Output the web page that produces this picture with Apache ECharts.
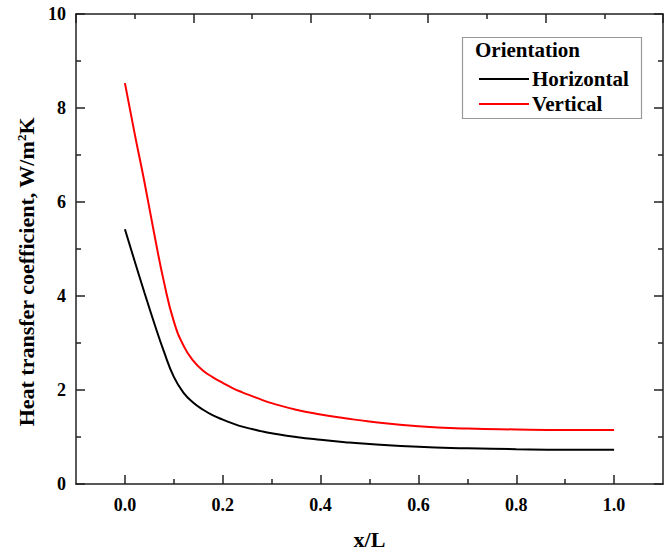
<!DOCTYPE html>
<html>
<head>
<meta charset="utf-8">
<script src="https://cdn.jsdelivr.net/npm/echarts@6/dist/echarts.min.js"></script>
<style>
  html, body { margin: 0; padding: 0; background: #fff; }
  #chart { width: 672px; height: 555px; }
</style>
</head>
<body>
<div id="chart"></div>
<script>
// ---- data ----
const xValues = [0, 0.02, 0.04, 0.06, 0.08, 0.1, 0.12, 0.14, 0.16, 0.18, 0.2, 0.22, 0.24, 0.26, 0.28, 0.3, 0.35, 0.4, 0.45, 0.5, 0.6, 0.7, 0.8, 0.9, 1.0];
const horizontal = [5.42, 4.74, 4.07, 3.42, 2.81, 2.28, 1.94, 1.73, 1.58, 1.46, 1.37, 1.29, 1.22, 1.17, 1.12, 1.08, 1.00, 0.94, 0.89, 0.85, 0.79, 0.76, 0.74, 0.73, 0.73];
const vertical = [8.53, 7.45, 6.42, 5.32, 4.29, 3.46, 2.94, 2.62, 2.41, 2.27, 2.15, 2.04, 1.95, 1.87, 1.79, 1.72, 1.58, 1.48, 1.40, 1.33, 1.23, 1.18, 1.16, 1.15, 1.15];
const seriesNames = ['Horizontal', 'Vertical'];
const legendTitle = 'Orientation';
const xMajorTicks = [0, 0.2, 0.4, 0.6, 0.8, 1.0];
const xMinorTicks = [0.1, 0.3, 0.5, 0.7, 0.9];
const xAxisTitle = 'x/L';
const yAxisTitle = 'Heat transfer coefficient, W/m{sup|2}K';

const FONT = '"Liberation Serif", "Times New Roman", serif';
const AXIS_COLOR = '#222';

const chart = echarts.init(document.getElementById('chart'), null, { renderer: 'svg' });

const pair = (xs, ys) => xs.map((x, i) => [x, ys[i]]);

chart.setOption({
  backgroundColor: '#fff',
  animation: false,
  grid: { left: 76, right: 9, top: 14, bottom: 66, containLabel: false },
  xAxis: [
    {
      type: 'value', position: 'bottom', min: -0.1, max: 1.1,
      axisLine: { show: true, onZero: false, lineStyle: { color: AXIS_COLOR, width: 1.5 } },
      axisTick: { show: true, inside: true, length: 9, customValues: xMajorTicks, lineStyle: { color: AXIS_COLOR, width: 1.5 } },
      axisLabel: { show: true, customValues: xMajorTicks, margin: 12, formatter: v => v.toFixed(1),
        fontFamily: FONT, fontWeight: 'bold', fontSize: 18, color: '#000' },
      splitLine: { show: false },
      name: xAxisTitle, nameLocation: 'middle', nameGap: 44,
      nameTextStyle: { fontFamily: FONT, fontWeight: 'bold', fontSize: 22, color: '#000' }
    },
    {
      type: 'value', position: 'bottom', min: -0.1, max: 1.1,
      axisLine: { show: false },
      axisTick: { show: true, inside: true, length: 5, customValues: xMinorTicks, lineStyle: { color: AXIS_COLOR, width: 1.5 } },
      axisLabel: { show: false },
      splitLine: { show: false }
    },
    {
      type: 'value', position: 'top', min: 0, max: 10, interval: 2,
      axisLine: { show: true, onZero: false, lineStyle: { color: AXIS_COLOR, width: 1.5 } },
      axisTick: { show: true, inside: true, length: 9, lineStyle: { color: AXIS_COLOR, width: 1.5 } },
      minorTick: { show: true, splitNumber: 2, length: 5, lineStyle: { color: AXIS_COLOR, width: 1.5 } },
      axisLabel: { show: false },
      splitLine: { show: false }
    }
  ],
  yAxis: [
    {
      type: 'value', position: 'left', min: 0, max: 10, interval: 2,
      axisLine: { show: true, onZero: false, lineStyle: { color: AXIS_COLOR, width: 1.5 } },
      axisTick: { show: true, inside: true, length: 9, lineStyle: { color: AXIS_COLOR, width: 1.5 } },
      minorTick: { show: true, splitNumber: 2, length: 5, lineStyle: { color: AXIS_COLOR, width: 1.5 } },
      axisLabel: { show: true, margin: 10, fontFamily: FONT, fontWeight: 'bold', fontSize: 18, color: '#000' },
      splitLine: { show: false },
      name: yAxisTitle, nameLocation: 'middle', nameGap: 38, nameRotate: 90,
      nameTextStyle: { fontFamily: FONT, fontWeight: 'bold', fontSize: 22, color: '#000', padding: [0, 46, 0, 0],
        rich: { sup: { fontFamily: FONT, fontWeight: 'bold', fontSize: 13, color: '#000', verticalAlign: 'top', lineHeight: 13 } } }
    },
    {
      type: 'value', position: 'right', min: 0, max: 10, interval: 2,
      axisLine: { show: true, onZero: false, lineStyle: { color: AXIS_COLOR, width: 1.5 } },
      axisTick: { show: true, inside: true, length: 9, lineStyle: { color: AXIS_COLOR, width: 1.5 } },
      minorTick: { show: true, splitNumber: 2, length: 5, lineStyle: { color: AXIS_COLOR, width: 1.5 } },
      axisLabel: { show: false },
      splitLine: { show: false }
    }
  ],
  legend: {
    orient: 'vertical', left: 474, top: 63,
    itemWidth: 50, itemHeight: 2, itemGap: 3,
    icon: 'rect',
    data: seriesNames,
    textStyle: { fontFamily: FONT, fontWeight: 'bold', fontSize: 21, color: '#000', lineHeight: 22, padding: [0, 0, 0, -2] }
  },
  graphic: [
    { type: 'rect', left: 460, top: 35, shape: { width: 179, height: 81 },
      style: { fill: 'none', stroke: '#999', lineWidth: 1.2 }, z: 10 },
    { type: 'text', left: 475, top: 39,
      style: { text: legendTitle, font: 'bold 21px ' + FONT, fill: '#000' }, z: 10 }
  ],
  series: [
    { name: seriesNames[0], type: 'line', xAxisIndex: 0, yAxisIndex: 0, data: pair(xValues, horizontal),
      smooth: 0.5, showSymbol: false, symbol: 'none', lineStyle: { color: '#000', width: 2 }, itemStyle: { color: '#000' } },
    { name: seriesNames[1], type: 'line', xAxisIndex: 0, yAxisIndex: 0, data: pair(xValues, vertical),
      smooth: 0.5, showSymbol: false, symbol: 'none', lineStyle: { color: '#ff0000', width: 2 }, itemStyle: { color: '#ff0000' } }
  ]
});
</script>
</body>
</html>
